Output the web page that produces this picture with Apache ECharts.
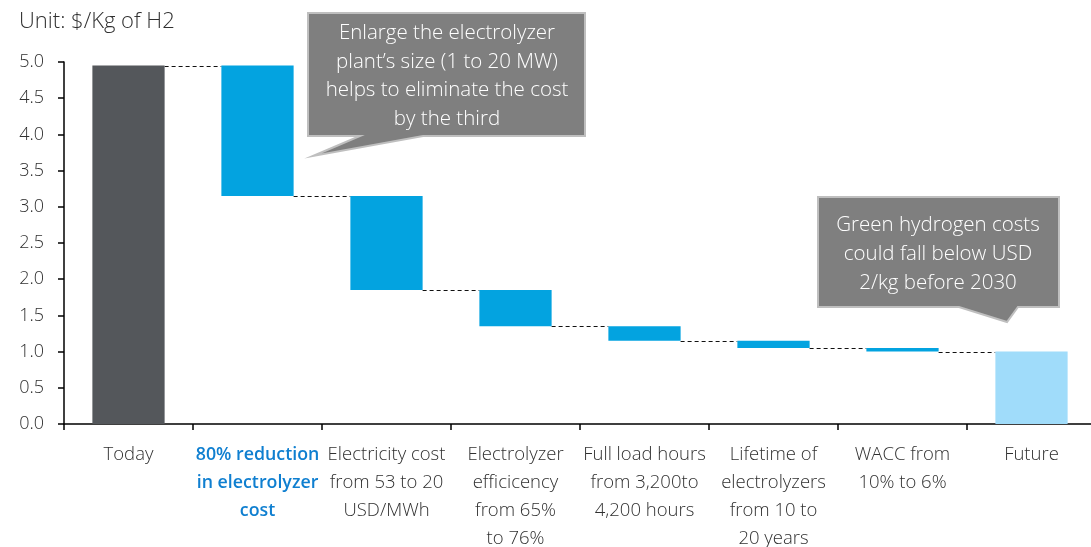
<!DOCTYPE html>
<html>
<head>
<meta charset="utf-8">
<script src="https://cdn.jsdelivr.net/npm/echarts@6/dist/echarts.min.js"></script>
<style>
  html, body { margin: 0; padding: 0; background: #ffffff; }
  #chart { width: 1091px; height: 547px; }
</style>
</head>
<body>
<div id="chart"></div>
<script>
// Hydrogen cost bridge: today's cost, each driver's reduction, future cost ($/kg H2)
const categories = [
  'Today',
  '80% reduction\nin electrolyzer\ncost',
  'Electricity cost\nfrom 53 to 20\nUSD/MWh',
  'Electrolyzer\nefficicency\nfrom 65%\nto 76%',
  'Full load hours\nfrom 3,200to\n4,200 hours',
  'Lifetime of\nelectrolyzers\nfrom 10 to\n20 years',
  'WACC from\n10% to 6%',
  'Future'
];
const todayCost = 4.95;
const reductions = [1.8, 1.3, 0.5, 0.2, 0.1, 0.05];
const futureCost = 1.0;
const yTicks = { min: 0, max: 5, interval: 0.5 };

// Running level after each step
const levels = [todayCost];
reductions.forEach(r => levels.push(+(levels[levels.length - 1] - r).toFixed(2)));

// Invisible base + visible segment for the waterfall
const baseData = [0];
const valueData = [{ value: todayCost, itemStyle: { color: '#54575b' } }];
reductions.forEach((r, i) => {
  baseData.push(levels[i + 1]);
  valueData.push({ value: r, itemStyle: { color: '#03a3e0' } });
});
baseData.push(0);
valueData.push({ value: futureCost, itemStyle: { color: '#a0dcfa' } });

// Connector segments: level leaving category i into category i+1
const connectors = levels.map((lv, i) => [i, lv]);

const chart = echarts.init(document.getElementById('chart'), null, { renderer: 'canvas' });
const font = '"Open Sans", "Noto Sans", sans-serif';
const textColor = '#303030';

chart.setOption({
  animation: false,
  textStyle: { fontFamily: font },
  grid: { left: 64, top: 62, width: 1032, height: 362, outerBoundsMode: 'none', containLabel: false },
  xAxis: {
    type: 'category',
    data: categories,
    axisLine: { lineStyle: { color: '#000', width: 1.5 } },
    axisTick: { show: true, length: 6, lineStyle: { color: '#000', width: 1.5 } },
    axisLabel: {
      interval: 0,
      margin: 17,
      fontSize: 18.5,
      fontWeight: 300,
      lineHeight: 28,
      color: textColor,
      fontFamily: font,
      formatter: (v, i) => i === 1 ? '{hl|' + v.split('\n').join('}\n{hl|') + '}' : v,
      rich: {
        hl: { color: '#0f7fd0', fontWeight: 600, fontSize: 17.8, lineHeight: 28, fontFamily: font }
      }
    }
  },
  yAxis: {
    type: 'value',
    min: yTicks.min,
    max: yTicks.max,
    interval: yTicks.interval,
    splitLine: { show: false },
    axisLine: { show: true, lineStyle: { color: '#000', width: 1.5 } },
    axisTick: { show: true, length: 6, lineStyle: { color: '#000', width: 1.5 } },
    axisLabel: {
      margin: 20,
      fontSize: 18,
      fontWeight: 300,
      color: textColor,
      fontFamily: font,
      formatter: v => v.toFixed(1)
    }
  },
  series: [
    {
      type: 'bar',
      stack: 'w',
      data: baseData,
      barWidth: '56%',
      itemStyle: { color: 'transparent' },
      silent: true
    },
    {
      type: 'bar',
      stack: 'w',
      data: valueData,
      barWidth: '56%'
    },
    {
      type: 'custom',
      data: connectors,
      z: 1,
      renderItem: (params, api) => {
        const i = api.value(0);
        const lv = api.value(1);
        const half = api.size([1, 0])[0] * 0.28;
        const a = api.coord([i, lv]);
        const b = api.coord([i + 1, lv]);
        const y = Math.round(a[1]) + 0.5;
        return {
          type: 'line',
          shape: { x1: a[0] + half, y1: y, x2: b[0] - half, y2: y },
          style: { stroke: '#111', lineWidth: 1, lineDash: [4, 3] }
        };
      }
    }
  ],
  graphic: [
    {
      type: 'text',
      left: 19, top: 11,
      style: { text: 'Unit: $/Kg of H2', fontSize: 22, fontWeight: 300, fill: textColor, fontFamily: font }
    },
    {
      type: 'polygon',
      shape: { points: [[308, 13], [585, 13], [585, 136], [423, 136], [313, 156], [360, 136], [308, 136]] },
      style: { fill: '#7f7f7f', stroke: '#bfbfbf', lineWidth: 2 }
    },
    {
      type: 'text',
      x: 447, y: 76,
      style: {
        text: 'Enlarge the electrolyzer\nplant\u2019s size (1 to 20 MW)\nhelps to eliminate the cost\nby the third',
        fontSize: 20.5, fontWeight: 300, lineHeight: 28.5, fill: '#ffffff', align: 'center', verticalAlign: 'middle', fontFamily: font
      }
    },
    {
      type: 'polygon',
      shape: { points: [[818, 197], [1059, 197], [1059, 307], [1018, 307], [1007, 322], [959, 307], [818, 307]] },
      style: { fill: '#7f7f7f', stroke: '#bfbfbf', lineWidth: 2 }
    },
    {
      type: 'text',
      x: 938, y: 254,
      style: {
        text: 'Green hydrogen costs\ncould fall below USD\n2/kg before 2030',
        fontSize: 20.5, fontWeight: 300, lineHeight: 29, fill: '#ffffff', align: 'center', verticalAlign: 'middle', fontFamily: font
      }
    }
  ]
});
</script>
</body>
</html>
